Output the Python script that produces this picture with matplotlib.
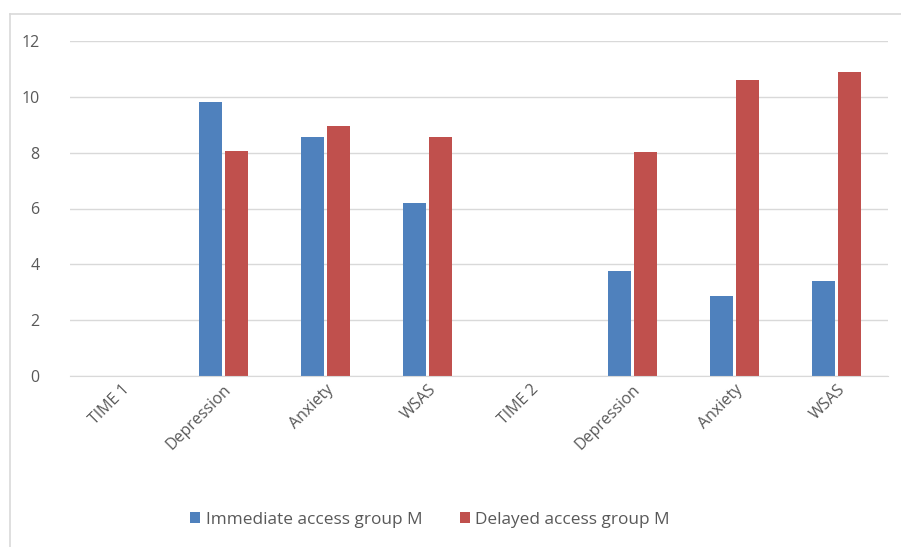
import numpy as np
import matplotlib.pyplot as plt
from matplotlib.lines import Line2D

categories = ["TIME 1", "Depression", "Anxiety", "WSAS",
              "TIME 2", "Depression", "Anxiety", "WSAS"]
immediate = [0, 9.8, 8.57, 6.2, 0, 3.76, 2.88, 3.41]
delayed = [0, 8.07, 8.94, 8.56, 0, 8.04, 10.6, 10.9]
series_names = ["Immediate access group M", "Delayed access group M"]

plt.rcParams['font.family'] = ['Open Sans', 'DejaVu Sans']

fig = plt.figure(figsize=(9.01, 5.47), dpi=100)
ax = fig.add_axes([70 / 901, 1 - 376 / 547, 818 / 901, 335 / 547])

x = np.arange(len(categories))
w = 0.225
gap = 0.03
ax.bar(x - (w + gap) / 2, immediate, w, color="#4f81bd", label=series_names[0])
ax.bar(x + (w + gap) / 2, delayed, w, color="#c0504d", label=series_names[1])

ax.set_xlim(-0.5, len(categories) - 0.5)
ax.set_ylim(0, 12)
ax.set_yticks(range(0, 13, 2))
ax.yaxis.grid(True, color="#d9d9d9", linewidth=1)
ax.set_axisbelow(True)
for s in ["top", "right", "left"]:
    ax.spines[s].set_visible(False)
ax.spines["bottom"].set_color("#d9d9d9")
ax.tick_params(axis="y", length=0, pad=22, labelsize=11.5, labelcolor="#595959")
ax.tick_params(axis="x", length=0, pad=4, labelsize=11.5, labelcolor="#595959")
ax.set_xticks(x)
ax.set_xticklabels(categories, rotation=45, ha="right", rotation_mode="anchor")

ax.legend(loc="center", bbox_to_anchor=((430 - 70) / 818, (376 - 520) / 335),
          ncol=2, frameon=False, fontsize=12.4, handlelength=0.6, handleheight=0.6,
          columnspacing=2.2, handletextpad=0.3, labelcolor="#595959")

# chart frame (only top and left edges are visible in the crop)
fig.add_artist(Line2D([10 / 901, 1], [1 - 14 / 547] * 2, transform=fig.transFigure,
                      color="#d9d9d9", linewidth=1.2))
fig.add_artist(Line2D([10 / 901] * 2, [0, 1 - 14 / 547], transform=fig.transFigure,
                      color="#d9d9d9", linewidth=1.2))

fig.savefig("out.png", dpi=100)
